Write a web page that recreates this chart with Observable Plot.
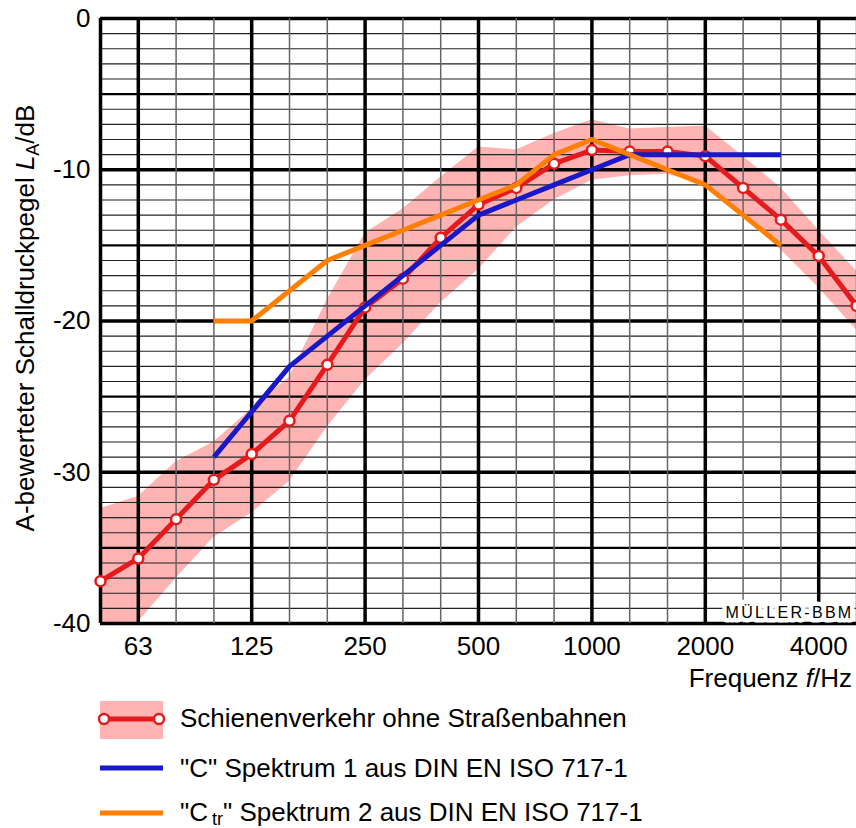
<!DOCTYPE html>
<html>
<head>
<meta charset="utf-8">
<script src="https://cdn.jsdelivr.net/npm/d3@7"></script>
<script src="https://cdn.jsdelivr.net/npm/@observablehq/plot@0.6"></script>
<style>
  body { margin: 0; background: #fff; font-family: "Liberation Sans", Arial, sans-serif; }
  #chart svg, #legend { display: block; }
</style>
</head>
<body>
<div id="chart"></div>
<svg id="legend" width="856" height="128" font-family="Liberation Sans, Arial, sans-serif" font-size="26">
  <rect x="100" y="1" width="63" height="38" fill="#ffb3b3"></rect>
  <line x1="104" x2="159" y1="19" y2="19" stroke="#e41a1c" stroke-width="5"></line>
  <circle cx="104" cy="19" r="5" fill="#fff" stroke="#e41a1c" stroke-width="2.5"></circle>
  <circle cx="159" cy="19" r="5" fill="#fff" stroke="#e41a1c" stroke-width="2.5"></circle>
  <text x="180" y="27">Schienenverkehr ohne Straßenbahnen</text>
  <line x1="100" x2="163" y1="68" y2="68" stroke="#1818c8" stroke-width="5"></line>
  <text x="180" y="77">"C" Spektrum 1 aus DIN EN ISO 717-1</text>
  <line x1="100" x2="163" y1="113" y2="113" stroke="#ff7f00" stroke-width="5"></line>
  <text x="180" y="121">"C<tspan dx="4" dy="4" font-size="18">tr</tspan><tspan dy="-4">" Spektrum 2 aus DIN EN ISO 717-1</tspan></text>
</svg>
<script>
// Third-octave band centre frequencies (Hz)
const freq = [50, 63, 80, 100, 125, 160, 200, 250, 315, 400, 500, 630, 800, 1000, 1250, 1600, 2000, 2500, 3150, 4000, 5000];
// Octave bands that carry an axis label
const octaveTicks = [63, 125, 250, 500, 1000, 2000, 4000];

// Rail traffic (without trams): mean A-weighted level and its spread
const railLevel = [-37.2, -35.7, -33.1, -30.5, -28.8, -26.6, -22.9, -19.1, -17.2, -14.5, -12.3, -11.2, -9.6, -8.7, -8.8, -8.8, -9.1, -11.2, -13.3, -15.7, -19.0];
const railUpper = [-32.4, -31.6, -29.3, -28.0, -25.8, -23.7, -18.6, -14.2, -12.6, -10.5, -8.5, -8.7, -7.6, -6.7, -7.3, -7.2, -7.1, -9.1, -11.2, -14.0, -16.7];
const railLower = [-41.0, -39.9, -37.0, -34.3, -32.7, -30.6, -27.0, -23.9, -21.5, -18.8, -16.6, -13.8, -12.0, -10.7, -10.4, -10.3, -11.0, -13.1, -15.3, -17.8, -20.6];

// Spectrum adaptation terms from DIN EN ISO 717-1
const specFreq = [100, 125, 160, 200, 250, 315, 400, 500, 630, 800, 1000, 1250, 1600, 2000, 2500, 3150];
const specC    = [-29, -26, -23, -21, -19, -17, -15, -13, -12, -11, -10, -9, -9, -9, -9, -9];
const specCtr  = [-20, -20, -18, -16, -15, -14, -13, -12, -11, -9, -8, -9, -10, -11, -13, -15];

const red = "#e41a1c", blue = "#1818c8", orange = "#ff7f00", pink = "#ffb3b3";

// bands are equally spaced, so position them by band index
const pos = f => freq.indexOf(f);
const rail = freq.map((f, k) => ({i: pos(f), level: railLevel[k], lo: railLower[k], hi: railUpper[k]}));
const cSpec = specFreq.map((f, k) => ({i: pos(f), v: specC[k]}));
const ctrSpec = specFreq.map((f, k) => ({i: pos(f), v: specCtr[k]}));

const dbLines = d3.range(0, -41, -1);
const bandLines = d3.range(0, freq.length);
const isOctave = i => i === 0 || octaveTicks.includes(freq[i]);

const chart = Plot.plot({
  width: 856,
  height: 700,
  marginTop: 18,
  marginBottom: 77,
  marginLeft: 100,
  marginRight: 0,
  style: {fontFamily: "Liberation Sans, Arial, sans-serif", fontSize: "26px", color: "#000", background: "#fff"},
  x: {type: "linear", domain: [0, freq.length - 1], axis: null, label: null},
  y: {domain: [-40, 0], axis: null, label: null},
  marks: [
    Plot.areaY(rail, {x: "i", y1: "lo", y2: "hi", fill: pink, clip: true}),
    Plot.ruleY(dbLines, {
      stroke: d => (d % 5 === 0 ? "#000" : "#222"),
      strokeWidth: d => (d % 10 === 0 ? 3.5 : d % 5 === 0 ? 2.2 : 1.2)
    }),
    Plot.ruleX(bandLines, {
      stroke: i => (isOctave(i) ? "#000" : "#666"),
      strokeWidth: i => (isOctave(i) ? 3.5 : 1.5)
    }),
    Plot.line(rail, {x: "i", y: "level", stroke: red, strokeWidth: 5, clip: true}),
    Plot.dot(rail, {x: "i", y: "level", r: 5, fill: "#fff", stroke: red, strokeWidth: 2.5}),
    Plot.line(cSpec, {x: "i", y: "v", stroke: blue, strokeWidth: 5, strokeLinecap: "butt"}),
    Plot.line(ctrSpec, {x: "i", y: "v", stroke: orange, strokeWidth: 5, strokeLinecap: "butt"}),
    Plot.axisY({ticks: [0, -10, -20, -30, -40], tickSize: 0, tickPadding: 10, fontSize: 26, label: null, tickFormat: d => String(d)}),
    Plot.axisX({ticks: octaveTicks.map(pos), tickSize: 0, tickPadding: 13, fontSize: 26, label: null, tickFormat: i => String(freq[i])}),
    Plot.text(["MÜLLER-BBM"], {
      frameAnchor: "bottom-right", dx: -3, dy: -6, fontSize: 16,
      fill: "#000", stroke: "#fff", strokeWidth: 9, className: "maker"
    })
  ]
});

document.getElementById("chart").appendChild(chart);

const svg = d3.select(chart);
svg.selectAll(".maker text").attr("letter-spacing", "2.3px");

const titleFont = "Liberation Sans, Arial, sans-serif";

// x title: "Frequenz f/Hz" with an italic quantity symbol
const xt = svg.append("text")
  .attr("x", 852).attr("y", 687)
  .attr("text-anchor", "end").attr("font-family", titleFont)
  .attr("font-size", 26).attr("fill", "#000");
xt.append("tspan").text("Frequenz ");
xt.append("tspan").attr("font-style", "italic").text("f");
xt.append("tspan").text("/Hz");

// y title with italic L and subscript A
const yt = svg.append("text")
  .attr("transform", "translate(34,318) rotate(-90)")
  .attr("text-anchor", "middle").attr("font-family", titleFont)
  .attr("font-size", 26).attr("fill", "#000");
yt.append("tspan").text("A-bewerteter Schalldruckpegel ");
yt.append("tspan").attr("font-style", "italic").text("L");
yt.append("tspan").attr("font-size", 18).attr("dy", 5).text("A");
yt.append("tspan").attr("dy", -5).text("/dB");
</script>
</body>
</html>
